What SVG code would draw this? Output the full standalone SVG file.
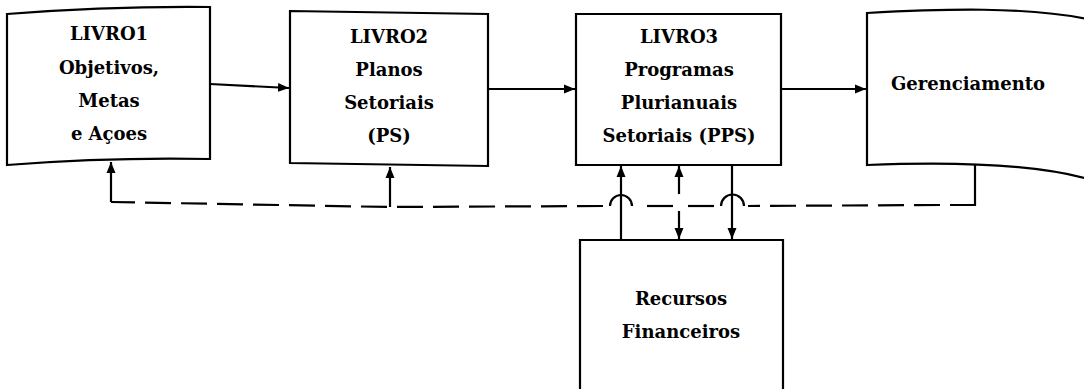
<svg xmlns="http://www.w3.org/2000/svg" width="1084" height="389" viewBox="0 0 1084 389">
<style>
.box{fill:#fff;stroke:#000;stroke-width:2.2;stroke-linejoin:miter}
.t{font-family:"DejaVu Serif","Liberation Serif",serif;font-size:18px;font-weight:bold;fill:#000;text-anchor:middle}
.ln{fill:none;stroke:#000;stroke-width:2.2}
.dash{fill:none;stroke:#000;stroke-width:2.2;stroke-dasharray:26 10}
</style>
<defs>
<marker id="ah" markerUnits="userSpaceOnUse" markerWidth="12" markerHeight="12" viewBox="0 0 12 12" refX="11" refY="6" orient="auto">
<path d="M0,1.5 L11,6 L0,10.5 Z" fill="#000"/>
</marker>
</defs>
<rect width="1084" height="389" fill="#fff"/>
<g id="livro1">
<path class="box" d="M7,14 Q110,6 210,7 L210,159 Q110,157 7,165 Z"/>
<text class="t" x="109" y="40">LIVRO1</text>
<text class="t" x="109" y="74">Objetivos,</text>
<text class="t" x="109" y="107">Metas</text>
<text class="t" x="109" y="140">e Açoes</text>
</g>
<g id="livro2">
<path class="box" d="M290,11 L488,14 L488,166 L290,163 Z"/>
<text class="t" x="389" y="43">LIVRO2</text>
<text class="t" x="389" y="76">Planos</text>
<text class="t" x="389" y="109">Setoriais</text>
<text class="t" x="389" y="142">(PS)</text>
</g>
<g id="livro3">
<path class="box" d="M576,14 L781,14 L781,165 L576,165 Z"/>
<text class="t" x="679" y="43">LIVRO3</text>
<text class="t" x="679" y="76">Programas</text>
<text class="t" x="679" y="109">Plurianuais</text>
<text class="t" x="679" y="142">Setoriais (PPS)</text>
</g>
<g id="gerenciamento">
<path class="box" d="M867,13 C940,9 1030,6 1092,20 L1092,180 C1030,162 940,162 867,165 Z"/>
<text class="t" x="968" y="90">Gerenciamento</text>
</g>
<g id="recursos">
<path class="box" d="M580,240 L783,240 L783,395 L580,395 Z"/>
<text class="t" x="681" y="305">Recursos</text>
<text class="t" x="681" y="338">Financeiros</text>
</g>
<g id="connectors">
<path class="ln" d="M210,84 L289,88" marker-end="url(#ah)"/>
<path class="ln" d="M488,89 L575,89" marker-end="url(#ah)"/>
<path class="ln" d="M781,89 L866,89" marker-end="url(#ah)"/>
<path class="ln" d="M975,164 L975,205 L950,205"/>
<path class="dash" d="M940,205 L748,206"/>
<path class="ln" d="M744,206 A11,11 0 0 0 721,206"/>
<path class="dash" d="M714,206 L688,206"/>
<path class="dash" d="M673,206 L640,206"/>
<path class="ln" d="M632,206 A11,11 0 0 0 610,206"/>
<path class="dash" d="M603,206 L390,207 L111,202"/>
<path class="ln" d="M111,202 L111,162" marker-end="url(#ah)"/>
<path class="ln" d="M390,207 L390,167" marker-end="url(#ah)"/>
<path class="ln" d="M621,240 L621,166" marker-end="url(#ah)"/>
<path class="ln" d="M679,194 L679,166" marker-end="url(#ah)"/>
<path class="ln" d="M679,211 L679,239" marker-end="url(#ah)"/>
<path class="ln" d="M732,165 L732,239" marker-end="url(#ah)"/>
</g>
</svg>
